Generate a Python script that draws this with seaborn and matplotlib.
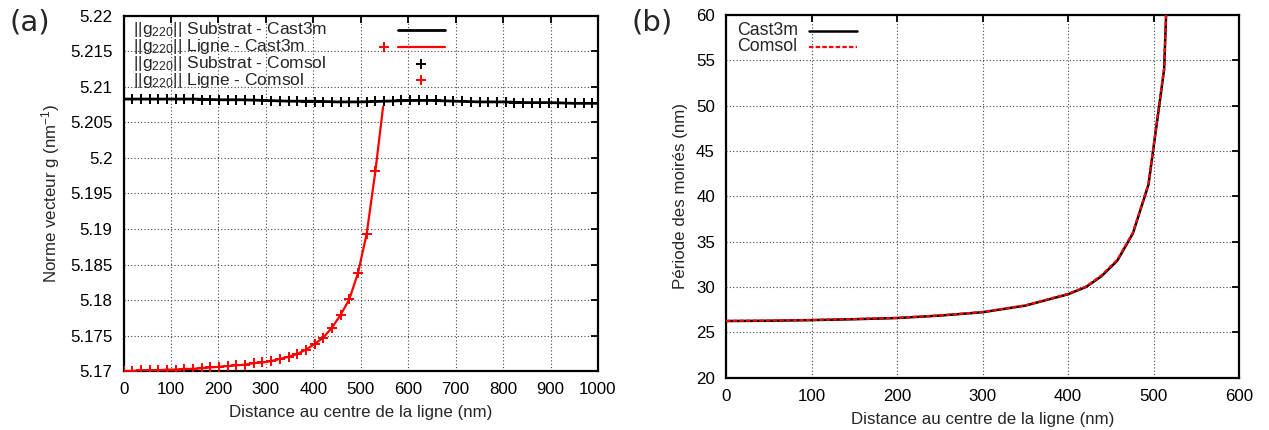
import matplotlib
matplotlib.use("Agg")
import matplotlib.pyplot as plt
import seaborn as sns
import numpy as np
import pandas as pd

# ---------------- data: panel (a) ----------------
x_ligne_comsol = [0, 18.3, 36.6, 54.9, 73.2, 91.5, 109.8, 128.1, 146.4, 164.7,
                  183.0, 201.3, 219.6, 237.9, 256.2, 274.5, 292.8, 311.1, 329.4, 347.7,
                  366.0, 384.3, 402.6, 420.9, 439.2, 457.5, 475.8, 494.1, 512.4, 530.7]
g_ligne_comsol = [5.1700, 5.1700, 5.1701, 5.1701, 5.1701, 5.1702, 5.1702, 5.1703, 5.1703, 5.1704,
                  5.1705, 5.1706, 5.1707, 5.1708, 5.1709, 5.1711, 5.1712, 5.1714, 5.1717, 5.1720,
                  5.1724, 5.1730, 5.1738, 5.1747, 5.1761, 5.1779, 5.1801, 5.1838, 5.1893, 5.1981]

x_ligne_cast3m = [0, 18.3, 36.6, 54.9, 73.2, 91.5, 109.8, 128.1, 146.4, 164.7,
                  183.0, 201.3, 219.6, 237.9, 256.2, 274.5, 292.8, 311.1, 329.4, 347.7,
                  366.0, 384.3, 402.6, 420.9, 439.2, 457.5, 475.8, 494.1, 512.4, 530.7, 547.0]
g_ligne_cast3m = [5.1700, 5.1700, 5.1701, 5.1701, 5.1701, 5.1702, 5.1702, 5.1703, 5.1703, 5.1704,
                  5.1705, 5.1706, 5.1707, 5.1708, 5.1709, 5.1711, 5.1712, 5.1714, 5.1717, 5.1720,
                  5.1724, 5.1730, 5.1738, 5.1747, 5.1761, 5.1779, 5.1801, 5.1838, 5.1893, 5.1981, 5.2072]

x_substrat_comsol = [0, 18.3, 36.6, 54.9, 73.2, 91.5, 109.8, 128.1, 146.4, 164.7,
                     183.0, 201.3, 219.6, 237.9, 256.2, 274.5, 292.8, 311.1, 329.4, 347.7,
                     366.0, 384.3, 402.6, 420.9, 439.2, 457.5, 475.8, 494.1, 512.4, 530.7,
                     549.0, 567.3, 585.6, 603.9, 622.2, 640.5, 658.8, 677.1, 695.4, 713.7,
                     732.0, 750.3, 768.6, 786.9, 805.2, 823.5, 841.8, 860.1, 878.4, 896.7,
                     915.0, 933.3, 951.6, 969.9, 988.2]
g_substrat_comsol = [5.20835, 5.20835, 5.20835, 5.20835, 5.20835, 5.20835,
                     5.2083, 5.2083, 5.2083, 5.2082, 5.2082, 5.2082,
                     5.2082, 5.2081, 5.2081, 5.2081, 5.2081, 5.2080,
                     5.2080, 5.2080, 5.2080, 5.2079, 5.2079, 5.2079,
                     5.2079, 5.2079, 5.2079, 5.2079, 5.2079, 5.2080,
                     5.2080, 5.2080, 5.2081, 5.2081, 5.2081, 5.2081,
                     5.2081, 5.2080, 5.2080, 5.2080, 5.2079, 5.2079,
                     5.2079, 5.2079, 5.2079, 5.2078, 5.2078, 5.2078,
                     5.2078, 5.2078, 5.2078, 5.2077, 5.2077, 5.2077, 5.2077]

x_substrat_cast3m = [0, 50, 100, 150, 200, 250, 300, 350, 400, 450, 500,
                     550, 600, 650, 700, 750, 800, 850, 900, 950, 1000]
g_substrat_cast3m = [5.2083, 5.2083, 5.2083, 5.2083, 5.2082, 5.2082, 5.2081, 5.2080, 5.2080, 5.2079, 5.2079,
                     5.2080, 5.2081, 5.2081, 5.2080, 5.2079, 5.2079, 5.2078, 5.2078, 5.2077, 5.2077]

# ---------------- data: panel (b) ----------------
x_periode = [0, 50, 100, 150, 200, 250, 300, 350, 400, 420.9, 439.2, 457.5,
             475.8, 494.1, 512.4, 530.7]
periode_cast3m = [26.25, 26.28, 26.35, 26.45, 26.58, 26.85, 27.22, 27.95, 29.2, 30.0,
                  31.2, 32.9, 35.9, 41.3, 54.0, 102.0]
periode_comsol = [26.27, 26.30, 26.37, 26.47, 26.60, 26.87, 27.25, 27.98, 29.25, 30.05,
                  31.3, 33.0, 36.0, 41.4, 54.2, 102.5]

xticks_a = [0, 100, 200, 300, 400, 500, 600, 700, 800, 900, 1000]
yticks_a = [5.17, 5.175, 5.18, 5.185, 5.19, 5.195, 5.2, 5.205, 5.21, 5.215, 5.22]
yticklabels_a = ["5.17", "5.175", "5.18", "5.185", "5.19", "5.195", "5.2", "5.205", "5.21", "5.215", "5.22"]
xticks_b = [0, 100, 200, 300, 400, 500, 600]
yticks_b = [20, 25, 30, 35, 40, 45, 50, 55, 60]

# ---------------- style ----------------
sns.set_theme(style="white")
plt.rcParams["font.family"] = ["Liberation Sans", "DejaVu Sans"]
plt.rcParams["mathtext.fontset"] = "custom"
plt.rcParams["mathtext.rm"] = "Liberation Sans"
plt.rcParams["mathtext.it"] = "Liberation Sans"

FS = 12.2
fig = plt.figure(figsize=(12.69, 4.30), dpi=100)
ax_a = fig.add_axes([0.0974, 0.1372, 0.3738, 0.8256])
ax_b = fig.add_axes([0.5721, 0.1216, 0.4043, 0.8435])


def style_axes(ax):
    for s in ax.spines.values():
        s.set_linewidth(1.6)
        s.set_color("black")
    ax.tick_params(direction="in", length=5, width=1.3, top=True, right=True,
                   labelsize=FS, colors="black", pad=8)
    ax.grid(True, color="#444444", linestyle=(0, (1, 2)), linewidth=0.8)
    ax.set_axisbelow(True)


# ---------------- panel (a) ----------------
sns.lineplot(x=x_substrat_cast3m, y=g_substrat_cast3m, ax=ax_a, color="black",
             linewidth=2.0, estimator=None, sort=False, zorder=3)
sns.scatterplot(x=x_substrat_comsol, y=g_substrat_comsol, ax=ax_a, color="black",
                marker="+", s=60, linewidth=1.4, zorder=4)
sns.lineplot(x=x_ligne_cast3m, y=g_ligne_cast3m, ax=ax_a, color="red",
             linewidth=1.6, estimator=None, sort=False, zorder=3)
sns.scatterplot(x=x_ligne_comsol, y=g_ligne_comsol, ax=ax_a, color="red",
                marker="+", s=60, linewidth=1.4, zorder=4)

ax_a.set_xlim(0, 1000)
ax_a.set_ylim(5.17, 5.22)
ax_a.set_xticks(xticks_a)
ax_a.set_yticks(yticks_a)
ax_a.set_yticklabels(yticklabels_a)
style_axes(ax_a)
ax_a.set_xlabel("Distance au centre de la ligne (nm)", fontsize=FS, labelpad=6)
ax_a.set_ylabel("Norme vecteur g (nm$^{-1}$)", fontsize=FS, labelpad=6)

# legend (gnuplot style: text left, sample right)
leg_labels = [r"$||\mathrm{g}_{220}||$ Substrat - Cast3m",
              r"$||\mathrm{g}_{220}||$ Ligne - Cast3m",
              r"$||\mathrm{g}_{220}||$ Substrat - Comsol",
              r"$||\mathrm{g}_{220}||$ Ligne - Comsol"]
rows = [0.961, 0.914, 0.866, 0.819]
for lab, yy in zip(leg_labels, rows):
    ax_a.text(0.02, yy, lab, transform=ax_a.transAxes, fontsize=12.5,
              va="center", ha="left", zorder=6)
ax_a.plot([0.578, 0.677], [rows[0], rows[0]], transform=ax_a.transAxes,
          color="black", linewidth=2.0, zorder=6)
ax_a.plot([0.578, 0.677], [rows[1], rows[1]], transform=ax_a.transAxes,
          color="red", linewidth=1.6, zorder=6)
ax_a.plot([0.549], [rows[1]], transform=ax_a.transAxes, marker="+", color="red",
          markersize=7, markeredgewidth=1.4, zorder=6)
ax_a.plot([0.627], [rows[2]], transform=ax_a.transAxes, marker="+", color="black",
          markersize=7, markeredgewidth=1.4, zorder=6)
ax_a.plot([0.627], [rows[3]], transform=ax_a.transAxes, marker="+", color="red",
          markersize=7, markeredgewidth=1.4, zorder=6)

# ---------------- panel (b) ----------------
sns.lineplot(x=x_periode, y=periode_cast3m, ax=ax_b, color="black",
             linewidth=1.8, estimator=None, sort=False, zorder=3)
sns.lineplot(x=x_periode, y=periode_comsol, ax=ax_b, color="red",
             linewidth=1.6, linestyle=(0, (2, 1)), estimator=None, sort=False, zorder=4)
ax_b.set_xlim(0, 600)
ax_b.set_ylim(20, 60)
ax_b.set_xticks(xticks_b)
ax_b.set_yticks(yticks_b)
style_axes(ax_b)
ax_b.set_xlabel("Distance au centre de la ligne (nm)", fontsize=FS, labelpad=6)
ax_b.set_ylabel("Période des moirés (nm)", fontsize=FS, labelpad=6)

rows_b = [0.956, 0.912]
ax_b.text(0.021, rows_b[0], "Cast3m", transform=ax_b.transAxes, fontsize=12.8,
          va="center", ha="left", zorder=6)
ax_b.text(0.021, rows_b[1], "Comsol", transform=ax_b.transAxes, fontsize=12.8,
          va="center", ha="left", zorder=6)
ax_b.plot([0.162, 0.255], [rows_b[0], rows_b[0]], transform=ax_b.transAxes,
          color="black", linewidth=1.8, zorder=6)
ax_b.plot([0.162, 0.255], [rows_b[1], rows_b[1]], transform=ax_b.transAxes,
          color="red", linewidth=1.6, linestyle=(0, (2, 1)), zorder=6)

# panel labels
fig.text(30 / 1269, 1 - 22 / 430, "(a)", fontsize=21, family="DejaVu Sans",
         ha="center", va="center")
fig.text(652 / 1269, 1 - 22 / 430, "(b)", fontsize=21, family="DejaVu Sans",
         ha="center", va="center")

fig.savefig("out.png", dpi=100)
